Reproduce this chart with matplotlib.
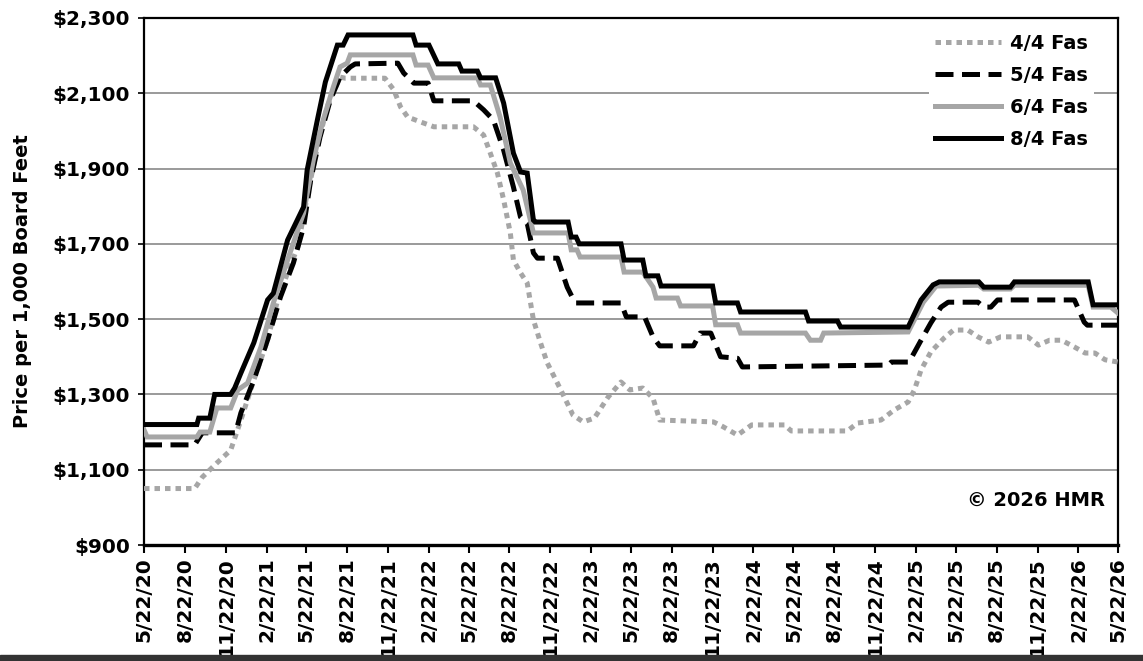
import matplotlib
matplotlib.use("Agg")
import matplotlib.pyplot as plt
import matplotlib.ticker as mticker
from matplotlib.patches import Rectangle
import pandas as pd

plt.rcParams['font.family'] = ['DejaVu Sans']
plt.rcParams['font.weight'] = 'bold'

# ---------------- data ----------------
dates_44 = ["2020-05-22","2020-09-13","2020-09-30","2020-11-02","2020-12-03","2020-12-26","2021-01-24",
            "2021-02-24","2021-03-17","2021-04-10","2021-05-03","2021-05-24","2021-06-16","2021-07-08",
            "2021-08-06","2021-08-18","2021-11-15","2021-12-05","2021-12-20","2022-01-05","2022-02-03",
            "2022-03-05","2022-06-02","2022-06-25","2022-07-10","2022-07-26","2022-08-09","2022-08-24",
            "2022-08-31","2022-09-16","2022-10-01","2022-10-15","2022-10-31","2022-11-15","2022-12-08",
            "2022-12-30","2023-01-12","2023-02-04","2023-03-01","2023-04-01","2023-04-30","2023-05-20",
            "2023-06-18","2023-07-11","2023-07-26","2023-11-24","2023-12-16","2024-01-17","2024-02-18",
            "2024-05-02","2024-05-17","2024-09-20","2024-10-13","2024-12-05","2025-01-04","2025-02-04",
            "2025-02-18","2025-03-05","2025-03-27","2025-04-26","2025-05-17","2025-06-18","2025-07-11",
            "2025-08-04","2025-08-31","2025-10-31","2025-11-24","2025-12-19","2026-01-15","2026-02-13",
            "2026-03-09","2026-03-31","2026-04-23","2026-05-22"]
price_44 = [1050,1050,1080,1118,1152,1232,1338,
            1445,1543,1623,1692,1825,1958,2064,
            2143,2140,2140,2109,2064,2037,2024,
            2011,2011,1989,1941,1888,1817,1729,
            1657,1623,1596,1498,1437,1384,1330,
            1277,1245,1227,1237,1293,1333,1312,
            1317,1290,1232,1227,1214,1192,1219,
            1219,1203,1203,1224,1232,1259,1280,
            1312,1365,1413,1450,1471,1471,1453,
            1439,1453,1453,1431,1444,1444,1426,
            1410,1410,1392,1386]

dates_54 = ["2020-05-22","2020-09-13","2020-09-30","2020-12-14","2020-12-26","2021-01-24","2021-02-24",
            "2021-03-25","2021-04-23","2021-05-16","2021-06-01","2021-06-22","2021-07-15","2021-08-06",
            "2021-08-29","2021-09-09","2021-12-14","2021-12-27","2022-01-19","2022-02-20","2022-03-05",
            "2022-06-02","2022-06-25","2022-07-17","2022-08-09","2022-08-31","2022-09-16","2022-10-01",
            "2022-10-15","2022-10-24","2022-12-08","2022-12-30","2023-01-10","2023-01-19","2023-04-30",
            "2023-05-12","2023-06-22","2023-07-11","2023-07-26","2023-10-10","2023-10-25","2023-11-18",
            "2023-12-10","2024-01-17","2024-01-28","2024-12-21","2024-12-28","2025-02-06","2025-03-05",
            "2025-03-27","2025-04-19","2025-05-05","2025-07-11","2025-07-24","2025-08-09","2025-08-24",
            "2026-02-13","2026-03-07","2026-03-14","2026-05-22"]
price_54 = [1166,1166,1198,1198,1251,1338,1445,
            1559,1649,1745,1870,1984,2082,2143,
            2170,2178,2180,2154,2127,2127,2080,
            2080,2056,2029,1949,1851,1771,1755,
            1676,1662,1662,1585,1559,1543,1543,
            1506,1506,1453,1429,1429,1463,1463,
            1400,1396,1373,1378,1386,1386,1444,
            1490,1532,1545,1545,1532,1532,1551,
            1551,1492,1484,1484]

dates_64 = ["2020-05-22","2020-05-29","2020-09-18","2020-09-25","2020-10-17","2020-11-02","2020-12-03",
            "2020-12-19","2021-01-10","2021-02-09","2021-03-09","2021-04-10","2021-05-16","2021-06-07",
            "2021-06-29","2021-07-22","2021-08-06","2021-08-22","2021-08-29","2022-01-17","2022-01-24",
            "2022-02-20","2022-03-05","2022-06-11","2022-06-18","2022-07-10","2022-08-01","2022-08-24",
            "2022-09-22","2022-10-15","2023-01-01","2023-01-08","2023-01-21","2023-01-28","2023-04-30",
            "2023-05-07","2023-06-18","2023-07-11","2023-07-18","2023-09-04","2023-09-11","2023-11-22",
            "2023-11-29","2024-01-17","2024-01-24","2024-06-18","2024-06-29","2024-07-22","2024-07-29",
            "2025-02-04","2025-03-10","2025-04-08","2025-07-13","2025-07-24","2025-09-22","2025-10-01",
            "2026-03-16","2026-03-27","2026-05-06","2026-05-22"]
price_64 = [1206,1187,1187,1200,1200,1264,1264,
            1312,1330,1426,1543,1657,1782,1923,
            2029,2117,2170,2180,2202,2202,2175,
            2175,2141,2141,2122,2122,2037,1915,
            1843,1729,1729,1684,1684,1665,1665,
            1625,1625,1585,1556,1556,1535,1535,
            1485,1485,1463,1463,1444,1444,1463,
            1466,1545,1588,1590,1580,1580,1590,
            1590,1532,1532,1516]

dates_84 = ["2020-05-22","2020-09-18","2020-09-22","2020-10-17","2020-10-28","2020-12-03","2020-12-12",
            "2020-12-26","2021-01-24","2021-02-24","2021-03-09","2021-04-10","2021-05-16","2021-05-24",
            "2021-06-16","2021-07-04","2021-07-31","2021-08-13","2021-08-24","2022-01-17","2022-01-24",
            "2022-02-22","2022-03-14","2022-04-30","2022-05-07","2022-06-11","2022-06-18","2022-07-22",
            "2022-08-09","2022-08-31","2022-09-16","2022-10-01","2022-10-15","2022-10-19","2023-01-01",
            "2023-01-08","2023-01-19","2023-01-26","2023-04-30","2023-05-07","2023-06-18","2023-06-25",
            "2023-07-22","2023-07-29","2023-11-22","2023-11-29","2024-01-17","2024-01-24","2024-06-18",
            "2024-06-25","2024-08-29","2024-09-05","2025-02-04","2025-03-05","2025-04-01","2025-04-15",
            "2025-07-13","2025-07-24","2025-09-22","2025-10-01","2026-03-16","2026-03-27","2026-05-22"]
price_84 = [1220,1220,1237,1237,1300,1300,1317,
            1357,1437,1551,1569,1710,1798,1896,
            2029,2130,2228,2228,2255,2255,2228,
            2228,2178,2178,2159,2159,2141,2141,
            2074,1941,1891,1888,1763,1758,1758,
            1718,1718,1700,1700,1657,1657,1615,
            1615,1588,1588,1543,1543,1519,1519,
            1495,1495,1479,1479,1551,1591,1599,
            1599,1585,1585,1599,1599,1538,1538]

series_names = ["4/4 Fas", "5/4 Fas", "6/4 Fas", "8/4 Fas"]
tick_labels = ["5/22/20","8/22/20","11/22/20","2/22/21","5/22/21","8/22/21","11/22/21","2/22/22",
               "5/22/22","8/22/22","11/22/22","2/22/23","5/22/23","8/22/23","11/22/23","2/22/24",
               "5/22/24","8/22/24","11/22/24","2/22/25","5/22/25","8/22/25","11/22/25","2/22/26","5/22/26"]
y_ticks = [900, 1100, 1300, 1500, 1700, 1900, 2100, 2300]

# ---------------- figure ----------------
fig = plt.figure(figsize=(11.43, 6.61), dpi=100)
ax = fig.add_axes([144/1143, 1-545/661, (1118-144)/1143, (545-18)/661])

gray = '#A6A6A6'
lw = 3.6
l44, = ax.plot(pd.to_datetime(dates_44), price_44, color=gray, lw=lw, dashes=[1.1, 1.0],
               dash_capstyle='butt', label=series_names[0], zorder=3)
l54, = ax.plot(pd.to_datetime(dates_54), price_54, color='black', lw=lw, dashes=[3.6, 1.7],
               dash_capstyle='butt', label=series_names[1], zorder=4)
l64, = ax.plot(pd.to_datetime(dates_64), price_64, color=gray, lw=lw, solid_joinstyle='miter',
               label=series_names[2], zorder=5)
l84, = ax.plot(pd.to_datetime(dates_84), price_84, color='black', lw=lw, solid_joinstyle='miter',
               label=series_names[3], zorder=6)

tick_dates = pd.to_datetime(tick_labels, format='%m/%d/%y')
ax.set_xlim(tick_dates[0], tick_dates[-1])
ax.set_xticks(tick_dates)
ax.set_xticklabels(tick_labels, rotation=90, fontsize=14.5, fontweight='bold', va='top', ha='center')

ax.set_ylim(900, 2300)
ax.set_yticks(y_ticks)
ax.yaxis.set_major_formatter(mticker.FuncFormatter(lambda v, p: "${:,.0f}".format(v)))
for t in ax.get_yticklabels():
    t.set_fontsize(14.5)
    t.set_fontweight('bold')

ax.grid(axis='y', color='#7f7f7f', lw=1.1, zorder=1)
ax.set_axisbelow(True)
ax.tick_params(axis='x', direction='out', length=6, width=1.5, pad=3)
ax.tick_params(axis='y', direction='out', length=4, width=1.2, pad=6)
for s in ax.spines.values():
    s.set_linewidth(1.6)
    s.set_color('black')
ax.spines['bottom'].set_linewidth(2.4)

ax.set_ylabel("Price per 1,000 Board Feet", fontsize=14, fontweight='bold')
ax.yaxis.set_label_coords((32 - 144) / 974, 0.5)

leg = ax.legend(handles=[l44, l54, l64, l84], loc='upper right', bbox_to_anchor=(0.985, 1.0),
                frameon=True, framealpha=1, facecolor='white', edgecolor='none',
                handlelength=3.4, handletextpad=0.45, labelspacing=0.68, borderpad=0.3,
                prop={'weight': 'bold', 'size': 14})
leg.set_zorder(10)

ax.text(0.987, 0.085, "© 2026 HMR", transform=ax.transAxes, ha='right', va='center',
        fontsize=14, fontweight='bold', zorder=11)

fig.patches.append(Rectangle((0, 0), 1, 6/661, transform=fig.transFigure, color='#333333', zorder=0))

fig.savefig("out.png", dpi=100)
